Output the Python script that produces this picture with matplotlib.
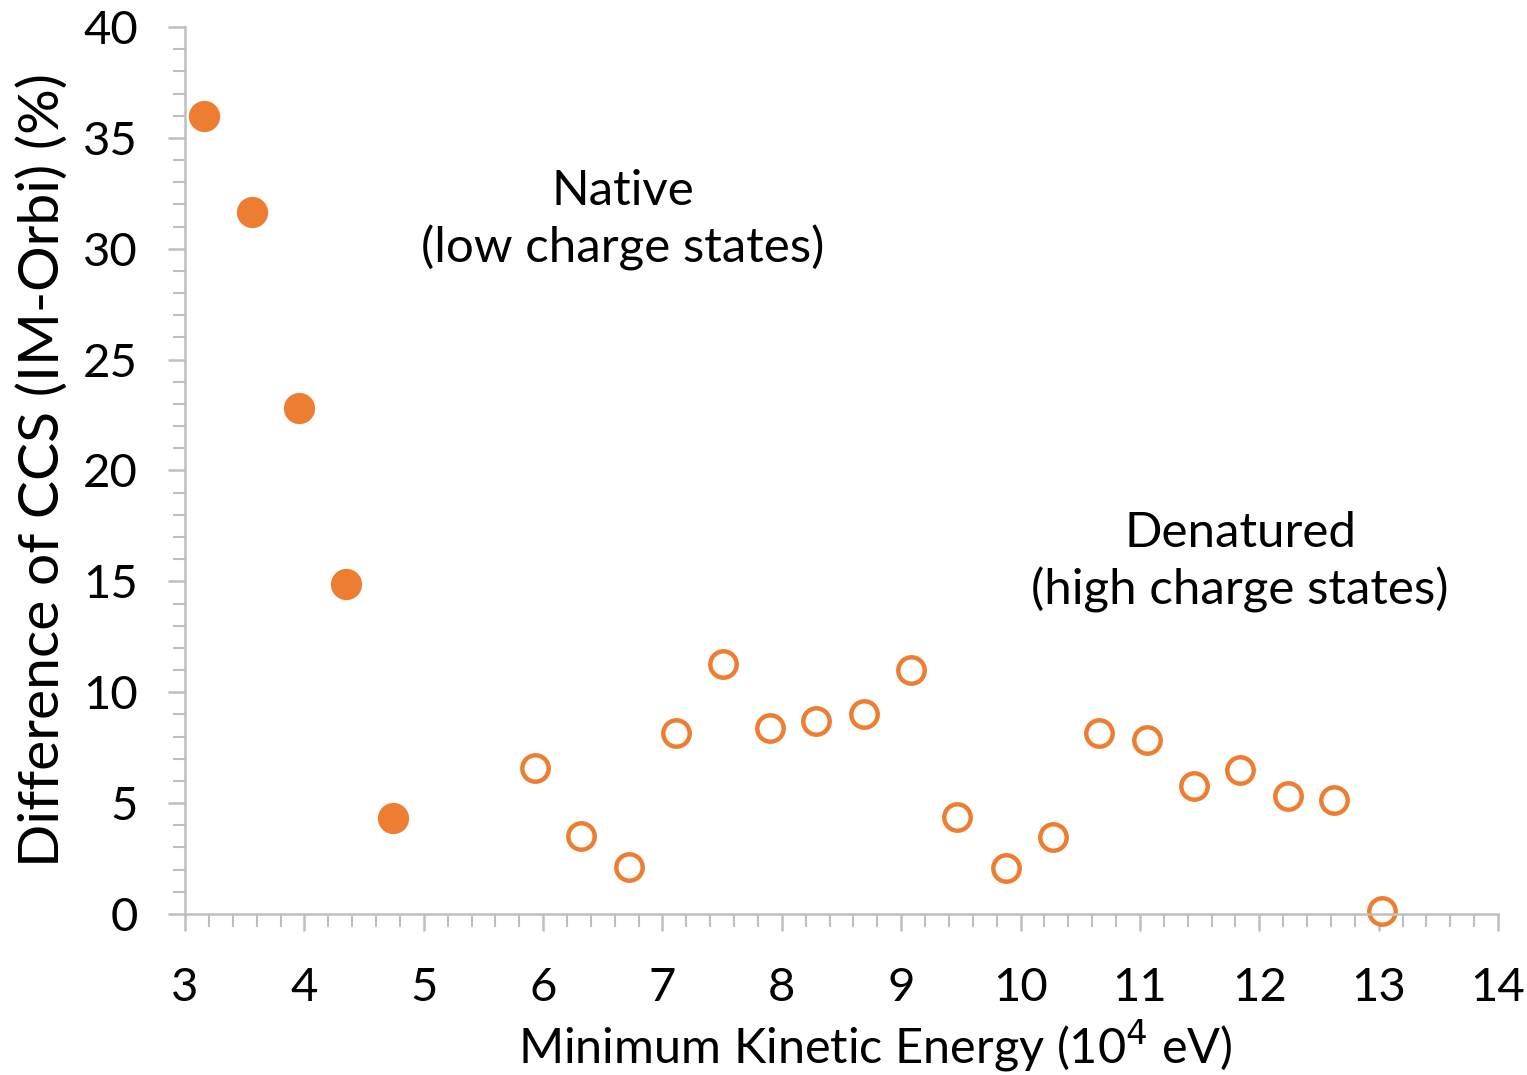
import matplotlib
matplotlib.use("Agg")
import matplotlib.pyplot as plt
from matplotlib.ticker import MultipleLocator

plt.rcParams['font.family'] = ['Lato', 'DejaVu Sans']

native_x = [3.16, 3.56, 3.955, 4.35, 4.74]
native_y = [36.0, 31.65, 22.8, 14.9, 4.33]

denat_x = [5.93, 6.32, 6.72, 7.11, 7.51, 7.90, 8.29, 8.69, 9.08, 9.47, 9.88,
           10.27, 10.66, 11.06, 11.45, 11.84, 12.24, 12.63, 13.03]
denat_y = [6.58, 3.52, 2.12, 8.16, 11.27, 8.39, 8.70, 9.02, 11.0, 4.37, 2.07,
           3.47, 8.16, 7.85, 5.77, 6.49, 5.32, 5.14, 0.14]

orange = '#ED7D31'
gray = '#BFBFBF'

fig = plt.figure(figsize=(15.27, 10.75), dpi=100)
ax = fig.add_axes([0.1212, 0.1498, 0.8598, 0.8251])

ax.plot(native_x, native_y, 'o', color=orange, markersize=22.5, markeredgewidth=0,
        linestyle='none', clip_on=False)
ax.plot(denat_x, denat_y, 'o', markerfacecolor='white', markeredgecolor=orange,
        markersize=19, markeredgewidth=3.2, linestyle='none', clip_on=False)

ax.set_xlim(3, 14)
ax.set_ylim(0, 40)
ax.xaxis.set_major_locator(MultipleLocator(1))
ax.xaxis.set_minor_locator(MultipleLocator(0.2))
ax.yaxis.set_major_locator(MultipleLocator(5))
ax.yaxis.set_minor_locator(MultipleLocator(1))

for s in ['top', 'right']:
    ax.spines[s].set_visible(False)
for s in ['left', 'bottom']:
    ax.spines[s].set_color(gray)
    ax.spines[s].set_linewidth(1.8)

ax.tick_params(which='major', direction='out', length=12, width=1.8, color=gray,
               labelsize=34)
ax.tick_params(which='minor', direction='out', length=9, width=1.5, color=gray)
ax.tick_params(axis='x', which='major', pad=26)
ax.tick_params(axis='y', which='major', pad=22)

ax.set_xlabel('Minimum Kinetic Energy (10$^{4}$ eV)', fontsize=35, labelpad=11)
ax.xaxis.set_label_coords(0.526, -0.117)
ax.xaxis.label.set_va('top')
ax.set_ylabel('Difference of CCS (IM-Orbi) (%)', fontsize=41, labelpad=10)

ax.text(6.67, 31.3, 'Native\n(low charge states)', fontsize=35.5, ha='center',
        va='center', multialignment='center', linespacing=1.3)
ax.text(11.84, 15.87, 'Denatured\n(high charge states)', fontsize=35.5, ha='center',
        va='center', multialignment='center', linespacing=1.3)

fig.savefig('out.png', dpi=100)
